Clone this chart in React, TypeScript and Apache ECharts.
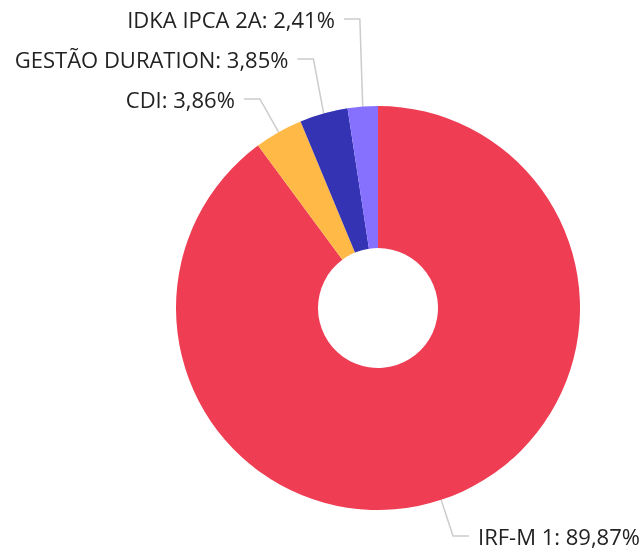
import React, { useEffect, useRef } from "react";
import * as echarts from "echarts";

const categories = ["IRF-M 1", "CDI", "GESTÃO DURATION", "IDKA IPCA 2A"];
const values = [89.87, 3.86, 3.85, 2.41];
const colors = ["#EF3D53", "#FFB946", "#3333B3", "#8571FE"];

const CX = 378;
const CY = 308;
const LEN = 38;
const LEN2 = 16;
const GAP = 9;

const fmt = (p: any) => `${p.name}: ${p.value.toFixed(2).replace(".", ",")}%`;

const labelBase = {
  formatter: fmt,
  fontFamily: "Open Sans",
  fontSize: 22,
  lineHeight: 38,
  color: "#222222",
  distanceToLabelLine: GAP,
  width: 320,
  overflow: "none",
};

const labelLineBase = {
  show: true,
  length: LEN,
  length2: LEN2,
  lineStyle: { color: "#cccccc", width: 1.5 },
};

// keep natural x of the connector's bend, only take the shifted y
const relayout = (params: any) => {
  const pts = params.labelLinePoints;
  if (!pts || pts.length < 3) return {};
  const p0 = pts[0];
  const a = Math.atan2(p0[1] - CY, p0[0] - CX);
  const dir = Math.cos(a) < 0 ? -1 : 1;
  const y = pts[2][1];
  const bx = p0[0] + LEN * Math.cos(a);
  const ex = bx + LEN2 * dir;
  return {
    x: ex + GAP * dir,
    y,
    align: dir < 0 ? "right" : "left",
    verticalAlign: "middle",
    labelLinePoints: [
      [p0[0], p0[1]],
      [bx, y],
      [ex, y],
    ],
  };
};

export default function App() {
  const ref = useRef<HTMLDivElement>(null);
  useEffect(() => {
    if (!ref.current) return;
    const chart = echarts.init(ref.current, undefined, { renderer: "svg" });
    chart.setOption({
      animation: false,
      series: [
        {
          type: "pie",
          left: 0,
          top: 0,
          width: 644,
          height: 555,
          center: [CX, CY],
          radius: [60, 202],
          startAngle: 90,
          clockwise: true,
          bleedMargin: 0,
          data: categories.map((name, i) => ({
            name,
            value: values[i],
            itemStyle: { color: colors[i] },
            label: { show: i === 0 },
            labelLine: { show: i === 0 },
          })),
          label: { ...labelBase, show: true },
          labelLine: labelLineBase,
          emphasis: { disabled: true },
          silent: true,
        },
        {
          type: "pie",
          left: 0,
          top: -1,
          width: 644,
          height: 120,
          center: [CX, CY + 1],
          radius: [60, 202],
          startAngle: 90,
          clockwise: true,
          bleedMargin: 0,
          avoidLabelOverlap: true,
          data: categories.map((name, i) => ({
            name,
            value: values[i],
            itemStyle: { color: "rgba(0,0,0,0)" },
            label: { show: i !== 0 },
            labelLine: { show: i !== 0 },
          })),
          label: { ...labelBase, show: true },
          labelLine: labelLineBase,
          labelLayout: relayout,
          emphasis: { disabled: true },
          silent: true,
        },
      ],
    });
    return () => chart.dispose();
  }, []);
  return (
    <div
      ref={ref}
      style={{ position: "fixed", left: 0, top: 0, width: 644, height: 555 }}
    />
  );
}
